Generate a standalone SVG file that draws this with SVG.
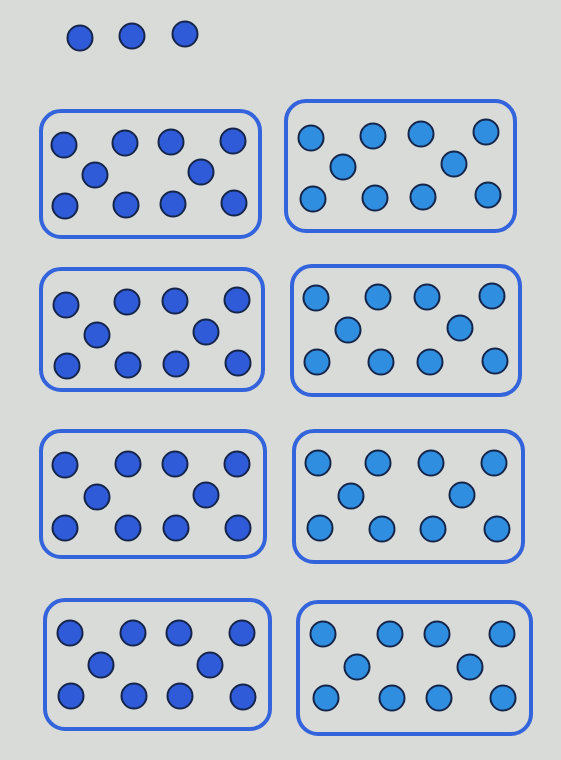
<svg xmlns="http://www.w3.org/2000/svg" width="561" height="760" viewBox="0 0 561 760">
<style>
.bg{fill:#d9dbd8}
.box{fill:none;stroke:#3464dc;stroke-width:4}
.d{stroke:#15254a;stroke-width:2}
.dl{fill:#2f5ad8}
.dr{fill:#2f8ee0}
circle{r:12.5px}
</style>
<rect class="bg" x="0" y="0" width="561" height="760"/>
<g id="top">
<circle class="d dl" cx="80" cy="38" r="12.5"/><circle class="d dl" cx="132" cy="36" r="12.5"/><circle class="d dl" cx="185" cy="34" r="12.5"/>
</g>
<g id="box1">
<rect class="box" x="41" y="111" width="219" height="126" rx="20"/>
<circle class="d dl" cx="64" cy="145" r="12.5"/><circle class="d dl" cx="125" cy="143" r="12.5"/><circle class="d dl" cx="171" cy="142" r="12.5"/><circle class="d dl" cx="233" cy="141" r="12.5"/>
<circle class="d dl" cx="95" cy="175" r="12.5"/><circle class="d dl" cx="201" cy="172" r="12.5"/>
<circle class="d dl" cx="65" cy="206" r="12.5"/><circle class="d dl" cx="126" cy="205" r="12.5"/><circle class="d dl" cx="173" cy="204" r="12.5"/><circle class="d dl" cx="234" cy="203" r="12.5"/>
</g>
<g id="box2">
<rect class="box" x="286" y="101" width="229" height="130" rx="20"/>
<circle class="d dr" cx="311" cy="138" r="12.5"/><circle class="d dr" cx="373" cy="136" r="12.5"/><circle class="d dr" cx="421" cy="134" r="12.5"/><circle class="d dr" cx="486" cy="132" r="12.5"/>
<circle class="d dr" cx="343" cy="167" r="12.5"/><circle class="d dr" cx="454" cy="164" r="12.5"/>
<circle class="d dr" cx="313" cy="199" r="12.5"/><circle class="d dr" cx="375" cy="198" r="12.5"/><circle class="d dr" cx="423" cy="197" r="12.5"/><circle class="d dr" cx="488" cy="195" r="12.5"/>
</g>
<g id="box3">
<rect class="box" x="41" y="269" width="222" height="121" rx="20"/>
<circle class="d dl" cx="66" cy="305" r="12.5"/><circle class="d dl" cx="127" cy="302" r="12.5"/><circle class="d dl" cx="175" cy="301" r="12.5"/><circle class="d dl" cx="237" cy="300" r="12.5"/>
<circle class="d dl" cx="97" cy="335" r="12.5"/><circle class="d dl" cx="206" cy="332" r="12.5"/>
<circle class="d dl" cx="67" cy="366" r="12.5"/><circle class="d dl" cx="128" cy="365" r="12.5"/><circle class="d dl" cx="176" cy="364" r="12.5"/><circle class="d dl" cx="238" cy="363" r="12.5"/>
</g>
<g id="box4">
<rect class="box" x="292" y="266" width="228" height="129" rx="20"/>
<circle class="d dr" cx="316" cy="298" r="12.5"/><circle class="d dr" cx="378" cy="297" r="12.5"/><circle class="d dr" cx="427" cy="297" r="12.5"/><circle class="d dr" cx="492" cy="296" r="12.5"/>
<circle class="d dr" cx="348" cy="330" r="12.5"/><circle class="d dr" cx="460" cy="328" r="12.5"/>
<circle class="d dr" cx="317" cy="362" r="12.5"/><circle class="d dr" cx="381" cy="362" r="12.5"/><circle class="d dr" cx="430" cy="362" r="12.5"/><circle class="d dr" cx="495" cy="361" r="12.5"/>
</g>
<g id="box5">
<rect class="box" x="41" y="431" width="224" height="126" rx="20"/>
<circle class="d dl" cx="65" cy="465" r="12.5"/><circle class="d dl" cx="128" cy="464" r="12.5"/><circle class="d dl" cx="175" cy="464" r="12.5"/><circle class="d dl" cx="237" cy="464" r="12.5"/>
<circle class="d dl" cx="97" cy="497" r="12.5"/><circle class="d dl" cx="206" cy="495" r="12.5"/>
<circle class="d dl" cx="65" cy="528" r="12.5"/><circle class="d dl" cx="128" cy="528" r="12.5"/><circle class="d dl" cx="176" cy="528" r="12.5"/><circle class="d dl" cx="238" cy="528" r="12.5"/>
</g>
<g id="box6">
<rect class="box" x="294" y="431" width="229" height="131" rx="20"/>
<circle class="d dr" cx="318" cy="463" r="12.5"/><circle class="d dr" cx="378" cy="463" r="12.5"/><circle class="d dr" cx="431" cy="463" r="12.5"/><circle class="d dr" cx="494" cy="463" r="12.5"/>
<circle class="d dr" cx="351" cy="496" r="12.5"/><circle class="d dr" cx="462" cy="495" r="12.5"/>
<circle class="d dr" cx="320" cy="528" r="12.5"/><circle class="d dr" cx="382" cy="529" r="12.5"/><circle class="d dr" cx="433" cy="529" r="12.5"/><circle class="d dr" cx="497" cy="529" r="12.5"/>
</g>
<g id="box7">
<rect class="box" x="45" y="600" width="225" height="129" rx="20"/>
<circle class="d dl" cx="70" cy="633" r="12.5"/><circle class="d dl" cx="133" cy="633" r="12.5"/><circle class="d dl" cx="179" cy="633" r="12.5"/><circle class="d dl" cx="242" cy="633" r="12.5"/>
<circle class="d dl" cx="101" cy="665" r="12.5"/><circle class="d dl" cx="210" cy="665" r="12.5"/>
<circle class="d dl" cx="71" cy="696" r="12.5"/><circle class="d dl" cx="134" cy="696" r="12.5"/><circle class="d dl" cx="180" cy="696" r="12.5"/><circle class="d dl" cx="243" cy="697" r="12.5"/>
</g>
<g id="box8">
<rect class="box" x="298" y="602" width="233" height="132" rx="20"/>
<circle class="d dr" cx="323" cy="634" r="12.5"/><circle class="d dr" cx="390" cy="634" r="12.5"/><circle class="d dr" cx="437" cy="634" r="12.5"/><circle class="d dr" cx="502" cy="634" r="12.5"/>
<circle class="d dr" cx="357" cy="667" r="12.5"/><circle class="d dr" cx="470" cy="667" r="12.5"/>
<circle class="d dr" cx="326" cy="698" r="12.5"/><circle class="d dr" cx="392" cy="698" r="12.5"/><circle class="d dr" cx="439" cy="698" r="12.5"/><circle class="d dr" cx="503" cy="698" r="12.5"/>
</g>
</svg>
